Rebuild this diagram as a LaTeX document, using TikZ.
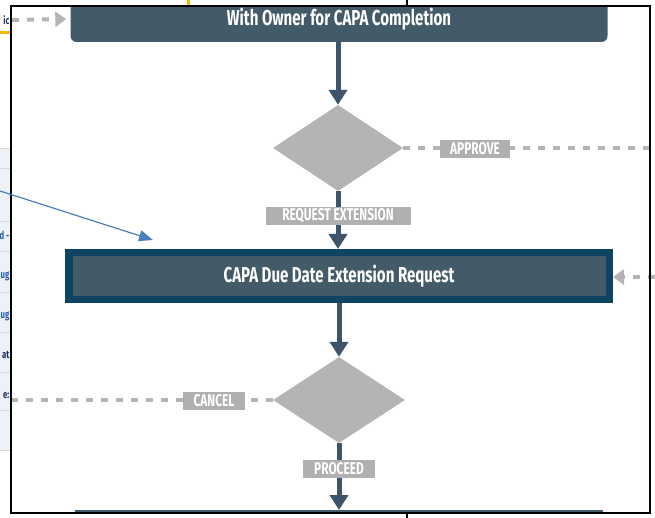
\documentclass[tikz,border=0pt]{standalone}
\usepackage{fontspec}
\newfontfamily\condfont[FakeStretch=0.7]{Fira Sans}
\setsansfont{Liberation Sans}
\usetikzlibrary{arrows.meta,positioning,shapes.geometric,calc}
\definecolor{boxslate}{HTML}{435A69}
\definecolor{boxrim}{HTML}{0F4462}
\definecolor{decgray}{HTML}{B4B4B4}
\definecolor{flowline}{HTML}{3E5468}
\definecolor{tagfill}{HTML}{B0B0B0}
\definecolor{calloutblue}{HTML}{4A7EBB}
\definecolor{stripgray}{HTML}{EEF1F5}
\definecolor{rowline}{HTML}{D5D9DE}
\definecolor{tablink}{HTML}{1F5FA8}
\definecolor{tabdark}{HTML}{1B2F5E}
\definecolor{tabyellow}{HTML}{F5B800}

\begin{document}
\begin{tikzpicture}[
	x=1pt, y=-1pt,
	stepbox/.style={fill=boxslate, text=white, inner sep=0pt, font=\condfont\bfseries\fontsize{21.5}{24}\selectfont},
	decision/.style={diamond, fill=decgray, inner sep=0pt, minimum width=130, minimum height=86},
	tag/.style={fill=tagfill, text=white, inner sep=0pt, minimum height=18, font=\condfont\bfseries\fontsize{17}{18}\selectfont},
	flow/.style={draw=flowline, line width=5pt, -{Triangle[length=15pt,width=18pt]}},
	dashline/.style={draw=decgray, line width=4pt, dash pattern=on 7pt off 8pt},
	dashtip/.style={-{Triangle[length=11pt,width=15pt]}},
	callarrow/.style={draw=calloutblue, line width=1.2pt, -{Triangle[length=14pt,width=11pt]}},
	cut/.style={anchor=east, inner sep=0pt, font=\condfont\bfseries\fontsize{11}{12}\selectfont}
	]
		\useasboundingbox (0,0) rectangle (655,518);
		
		% bits of the window behind
		\fill[stripgray] (0,149) rectangle (11,450);
		\foreach \y in {149,169,222,252,292,332,372,410,450}
			\draw[rowline, line width=1pt] (0,\y) -- (11,\y);
		\node[cut, text=tabdark]	(frag0)	at	(9.5,20)	{ic};
		\node[cut, text=tablink]	(frag1)	at	(9.5,235)	{d -};
		\node[cut, text=tablink]	(frag2)	at	(9.5,276)	{ug};
		\node[cut, text=tablink]	(frag3)	at	(9.5,316)	{ug};
		\node[cut, text=tabdark]	(frag4)	at	(9.5,355)	{at};
		\node[cut, text=tabdark]	(frag5)	at	(9.5,396)	{e:};
		\draw[tabyellow, line width=3pt] (0,33) -- (11,33);
		\draw[tabyellow, line width=3pt] (188,0) -- (188,6);
		\draw[line width=1.5pt] (407,0) -- (407,6);
		\draw[line width=1.5pt] (407,513) -- (407,518);
		
		% boxes and decisions
		\begin{scope}
			\clip (11,6) rectangle (650,513);
			\node[stepbox, rounded corners=6pt, minimum width=537, minimum height=46]	(owner)		at	(339,19)	{With Owner for CAPA Completion};
			\node[stepbox, minimum width=528, minimum height=40, anchor=north]		(nextstep)	at	(339,510)	{};
		\end{scope}
		\node[stepbox, draw=boxrim, line width=7.5pt, minimum width=540.5, minimum height=46.5]	(extreq)	at	(339,276)	{CAPA Due Date Extension Request};
		\node[decision]					(ask1)		at	(338,148)	{};
		\node[decision, minimum width=132]		(ask2)		at	(339,400)	{};
		
		\coordinate	(inFrom)	at	(12,20);
		\coordinate	(approveTo)	at	(655,148);
		\coordinate	(backFrom)	at	(655,277);
		\coordinate	(cancelTo)	at	(12,400);
		\coordinate	(callFrom)	at	(0,191);
		\coordinate	(callTo)	at	(153,240);
		
		\draw[flow] (owner.south -| ask1.north) -- (ask1.north);
		\draw[flow] (ask1.south) -- (ask1.south |- extreq.north);
		\draw[flow] (ask2.north |- extreq.south) -- (ask2.north);
		\draw[flow] (ask2.south) -- (nextstep.north);
		\draw[dashline] (ask1.east) -- (approveTo);
		\draw[dashline] (ask2.west) -- (cancelTo);
		\draw[dashline, dashtip, shorten >=4pt] (inFrom) -- (owner.west);
		\draw[dashline, dashtip] (backFrom) -- (extreq.east |- backFrom);
		
		\node[tag, minimum width=70]	(approve)	at	(475,149)	{APPROVE};
		\node[tag, minimum width=145]	(reqext)	at	(338,216)	{REQUEST EXTENSION};
		\node[tag, minimum width=62]	(cancel)	at	(214,401)	{CANCEL};
		\node[tag, minimum width=72]	(proceed)	at	(339,469)	{PROCEED};
		
		\draw[line width=2pt] (11,6) rectangle (650,513);
		\draw[callarrow] (callFrom) -- (callTo);
	\end{tikzpicture}
\end{document}
